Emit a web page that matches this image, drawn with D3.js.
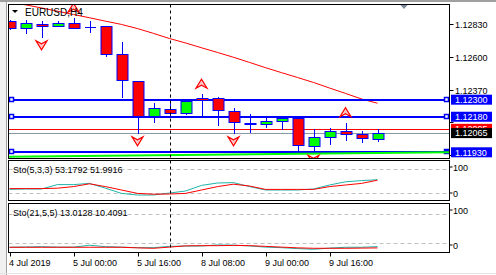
<!DOCTYPE html>
<html><head><meta charset="utf-8">
<script src="https://cdn.jsdelivr.net/npm/d3@7"></script>
<style>html,body{margin:0;padding:0;background:#fff;}svg{display:block;font-family:"Liberation Sans",Arial,sans-serif;}</style>
</head><body>
<svg id="c" width="496" height="275"></svg>
<script>
// ---------- data ----------
const times = ["4 Jul 08:00","4 Jul 12:00","4 Jul 16:00","4 Jul 20:00","5 Jul 00:00","5 Jul 04:00","5 Jul 08:00","5 Jul 12:00","5 Jul 16:00","5 Jul 20:00","8 Jul 00:00","8 Jul 04:00","8 Jul 08:00","8 Jul 12:00","8 Jul 16:00","8 Jul 20:00","9 Jul 00:00","9 Jul 04:00","9 Jul 08:00","9 Jul 12:00","9 Jul 16:00","9 Jul 20:00","10 Jul 00:00","10 Jul 04:00"];
const open  = [1.12856,1.12803,1.12833,1.12819,1.12840,1.12814,1.12819,1.12622,1.12434,1.12185,1.12232,1.12204,1.12310,1.12310,1.12223,1.12138,1.12127,1.12148,1.12169,1.11976,1.12035,1.12080,1.12058,1.12021];
const high  = [1.12862,1.12861,1.12856,1.12856,1.12873,1.12856,1.12819,1.12704,1.12434,1.12275,1.12293,1.12300,1.12338,1.12321,1.12242,1.12199,1.12176,1.12185,1.12171,1.12092,1.12103,1.12138,1.12080,1.12092];
const low   = [1.12795,1.12772,1.12739,1.12815,1.12803,1.12779,1.12610,1.12321,1.12063,1.12145,1.12195,1.12200,1.12185,1.12121,1.12063,1.12075,1.12110,1.12092,1.11946,1.11934,1.11986,1.12016,1.12004,1.12009];
const close = [1.12803,1.12840,1.12817,1.12842,1.12803,1.12814,1.12620,1.12435,1.12185,1.12239,1.12204,1.12293,1.12300,1.12227,1.12141,1.12127,1.12150,1.12173,1.11979,1.12035,1.12080,1.12056,1.12028,1.12065];
const maValues = [1.12990,1.12967,1.12945,1.12922,1.12899,1.12876,1.12852,1.12829,1.12800,1.12766,1.12730,1.12699,1.12665,1.12632,1.12598,1.12562,1.12525,1.12490,1.12456,1.12421,1.12382,1.12344,1.12305,1.12275];
const hLevels = [1.12300, 1.12180, 1.11930];
const trendPrices = [1.11899, 1.11925]; // at first and last candle
const bid = 1.12065, ask = 1.12095;
const priceTicks = [1.12830, 1.12600, 1.12370, 1.12140, 1.11910];
const priceTickShown = [true, true, true, false, false]; // last two are hidden under the line labels
const downArrowIdx = [2, 8, 14, 19];
const upArrowIdx = [4, 12, 21];
const sep = "8 Jul 00:00";
const tickIdx = [0, 4, 8, 12, 16, 20];
const tickLabels = ["4 Jul 2019", "5 Jul 00:00", "5 Jul 16:00", "8 Jul 08:00", "9 Jul 00:00", "9 Jul 16:00"];
const sto1Main = [29,30,30,41,41,44,32,19,15,15,20,25,39,45,46,36,27.5,27.5,27.5,30,40,48,51,53.1792];
const sto1Sig  = [31,31,31,32,36,43,36,27.5,19,17,17.5,19,27.5,36,42,37.5,29,29,29,29,36,40,44,51.9916];
const sto2Main = [11.7,12.3,12.9,12,12,15.8,13,12,10.9,10.9,13.5,14.3,14.3,16.4,16,14.5,12,10.9,9,7.6,10,11.7,11.7,13.0128];
const sto2Sig  = [11.7,11.7,11.7,11.7,11.7,11.7,11.7,11.7,10.5,9.6,12,14.5,15,15,15.5,15,13.5,12,10.5,9.6,9.6,9.6,10,10.4091];
const stoLevels = [20, 80];

// ---------- layout ----------
const svg = d3.select("#c");
const L = 8.5, R = 449.5;
const main = {t: 4.5, b: 158.5}, p1 = {t: 160.5, b: 200.5}, p2 = {t: 203.5, b: 252.5};

const x = d3.scalePoint().domain(times).range([9.5, 377.5]);
const y = d3.scaleLinear().domain([1.11930, 1.12830]).range([152.3, 24.3]);
const y1 = d3.scaleLinear().domain([0, 100]).range([201, 161]);
const y2 = d3.scaleLinear().domain([0, 100]).range([253, 204]);
const fmt = d3.format(".5f");
const rnd = v => Math.round(v) + 0.5;

// chrome
svg.append("rect").attr("x",0).attr("y",0).attr("width",496).attr("height",275).attr("fill","#fff");
svg.append("rect").attr("x",0).attr("y",0).attr("width",6).attr("height",275).attr("fill","#f0f0f0");
svg.append("line").attr("x1",6.5).attr("x2",6.5).attr("y1",0).attr("y2",275).attr("stroke","#a0a0a0");
svg.append("rect").attr("x",0).attr("y",0).attr("width",496).attr("height",2).attr("fill","#a0a0a0");
svg.append("line").attr("x1",0).attr("x2",496).attr("y1",273.5).attr("y2",273.5).attr("stroke","#e4e4e4");

const defs = svg.append("defs");
defs.append("clipPath").attr("id","cm").append("rect").attr("x",L).attr("y",main.t).attr("width",R-L).attr("height",main.b-main.t);
defs.append("clipPath").attr("id","c1").append("rect").attr("x",L).attr("y",p1.t).attr("width",R-L).attr("height",p1.b-p1.t);
defs.append("clipPath").attr("id","c2").append("rect").attr("x",L).attr("y",p2.t).attr("width",R-L).attr("height",p2.b-p2.t);

// ---------- main panel ----------
const gm = svg.append("g").attr("clip-path","url(#cm)");
const idx = d3.range(times.length);

// MA
gm.append("path").datum(idx).attr("fill","none").attr("stroke","#ff0000").attr("stroke-width",1)
  .attr("d", d3.line().x(i => x(times[i])).y(i => y(maValues[i])));

// ask / bid lines
gm.append("line").attr("x1",L).attr("x2",R).attr("y1",rnd(y(ask))).attr("y2",rnd(y(ask))).attr("stroke","#ff0000");
gm.append("line").attr("x1",L).attr("x2",R).attr("y1",rnd(y(bid))).attr("y2",rnd(y(bid))).attr("stroke","#8a99a8");

// horizontal level lines
hLevels.forEach((p, j) => {
  const yy = Math.round(y(p));
  gm.append("line").attr("x1",11).attr("x2",446).attr("y1",yy).attr("y2",yy).attr("stroke","#0000ff").attr("stroke-width",2);
  gm.append("rect").attr("x",9.5).attr("y",yy-2.5).attr("width",4).attr("height",4).attr("fill","#fff").attr("stroke","#0000ff").attr("stroke-width",1.5);
  gm.append("rect").attr("x",444.5).attr("y",yy-2.5).attr("width",4).attr("height",4).attr("fill", j===2 ? "#0000ff" : "#fff").attr("stroke","#0000ff").attr("stroke-width",1.5);
});

// candles
const cg = gm.append("g");
idx.forEach(i => {
  const cx = Math.round(x(times[i])) + 0.5;
  cg.append("line").attr("x1",cx).attr("x2",cx).attr("y1",Math.round(y(high[i]))).attr("y2",Math.round(y(low[i]))+1).attr("stroke","#0000ff");
  const top = Math.round(y(Math.max(open[i], close[i]))) + 0.5;
  const bot = Math.round(y(Math.min(open[i], close[i]))) + 0.5;
  const bull = close[i] > open[i], doji = close[i] === open[i];
  if (doji) {
    cg.append("line").attr("x1",cx-5.5).attr("x2",cx+5.5).attr("y1",top).attr("y2",top).attr("stroke","#0000ff");
  } else {
    cg.append("rect").attr("x",cx-5.5).attr("y",top).attr("width",11).attr("height",Math.max(1,bot-top))
      .attr("fill", bull ? "#00ff00" : "#ff0000").attr("stroke","#0000ff").attr("stroke-width",1);
  }
});

// trend line (green ray)
const tx0 = x(times[0]), tx1 = x(times[times.length-1]);
const slope = (trendPrices[1]-trendPrices[0])/(tx1-tx0);
gm.append("line").attr("x1",L).attr("x2",R)
  .attr("y1", y(trendPrices[0] + slope*(L-tx0))).attr("y2", y(trendPrices[0] + slope*(R-tx0)))
  .attr("stroke","#00ff00").attr("stroke-width",2);

// arrows
const downPath = "M-5.5,0 L0,3 L5.5,0 L0,9 Z";
const upPath = "M-5.5,0 L0,-3 L5.5,0 L0,-9 Z";
downArrowIdx.forEach(i => {
  gm.append("path").attr("d",downPath).attr("transform",`translate(${x(times[i])},${y(low[i])+3.5})`)
    .attr("fill","#ffc8c8").attr("stroke","#ff0000").attr("stroke-width",1.2);
});
upArrowIdx.forEach(i => {
  gm.append("path").attr("d",upPath).attr("transform",`translate(${x(times[i])},${y(high[i])-6})`)
    .attr("fill","#ffc8c8").attr("stroke","#ff0000").attr("stroke-width",1.2);
});

// title
svg.append("path").attr("d","M12,10 L18,10 L15,13 Z").attr("fill","#000");
svg.append("text").attr("x",25).attr("y",16).attr("font-size",10).attr("fill","#000").text("EURUSD,H4");
// shift marker
svg.append("path").attr("d","M400,4.5 L408,4.5 L404,9 Z").attr("fill","#7a8a9a");

// ---------- indicator panels ----------
function stoPanel(clipId, ys, mainV, sigV, label, box) {
  const g = svg.append("g").attr("clip-path",`url(#${clipId})`);
  stoLevels.forEach(l => g.append("line").attr("x1",L).attr("x2",R).attr("y1",Math.round(ys(l))+0.5).attr("y2",Math.round(ys(l))+0.5)
    .attr("stroke","#c0c0c0").attr("stroke-dasharray","4,3"));
  g.append("path").datum(idx).attr("fill","none").attr("stroke","#20b2aa").attr("stroke-width",1)
    .attr("d", d3.line().x(i => x(times[i])).y(i => ys(mainV[i])));
  g.append("path").datum(idx).attr("fill","none").attr("stroke","#ff0000").attr("stroke-width",1)
    .attr("d", d3.line().x(i => x(times[i])).y(i => ys(sigV[i])));
  svg.append("text").attr("x",13).attr("y",box.t + 12.5).attr("font-size",9).attr("fill","#000").text(label);
}
stoPanel("c1", y1, sto1Main, sto1Sig, "Sto(5,3,3) 53.1792 51.9916", p1);
stoPanel("c2", y2, sto2Main, sto2Sig, "Sto(21,5,5) 13.0128 10.4091", p2);

// separator
svg.append("line").attr("x1",Math.round(x(sep))+0.5).attr("x2",Math.round(x(sep))+0.5).attr("y1",main.t).attr("y2",p2.b)
  .attr("stroke","#000").attr("stroke-dasharray","3,3");

// borders
[main, p1, p2].forEach(p => svg.append("rect").attr("x",L).attr("y",p.t).attr("width",R-L).attr("height",p.b-p.t)
  .attr("fill","none").attr("stroke","#000"));

// ---------- price axis ----------
priceTicks.forEach((p, j) => {
  const yy = Math.round(y(p)) + 0.5;
  svg.append("line").attr("x1",R).attr("x2",R+4).attr("y1",yy).attr("y2",yy).attr("stroke","#000");
  if (priceTickShown[j]) svg.append("text").attr("x",455).attr("y",yy+3.2).attr("font-size",9).attr("fill","#000").text(fmt(p));
});
function priceBox(p, bg) {
  const yy = y(p);
  svg.append("rect").attr("x",451).attr("y",yy-5).attr("width",41).attr("height",10).attr("fill",bg);
  svg.append("text").attr("x",455).attr("y",yy+3.3).attr("font-size",9).attr("fill","#fff").text(fmt(p));
}
hLevels.forEach(p => priceBox(p, "#0000ff"));
priceBox(ask, "#ff0000");
priceBox(bid, "#000000");

// indicator axes
[p1, p2].forEach(p => {
  const yTop = p.t + 7, yBot = p.b - 8;
  svg.append("line").attr("x1",R).attr("x2",R+3).attr("y1",yTop-0.5).attr("y2",yTop-0.5).attr("stroke","#000");
  svg.append("line").attr("x1",R).attr("x2",R+3).attr("y1",yBot+0.5).attr("y2",yBot+0.5).attr("stroke","#000");
  svg.append("text").attr("x",453).attr("y",yTop+3).attr("font-size",9).attr("fill","#000").text("100");
  svg.append("text").attr("x",453).attr("y",yBot+4).attr("font-size",9).attr("fill","#000").text("0");
});

// ---------- time axis ----------
tickIdx.forEach((i, j) => {
  const xx = Math.round(x(times[i])) + 0.5;
  svg.append("line").attr("x1",xx).attr("x2",xx).attr("y1",p2.b).attr("y2",p2.b+4).attr("stroke","#000");
  svg.append("text").attr("x",xx-1.5).attr("y",266).attr("font-size",9).attr("fill","#000").text(tickLabels[j]);
});
</script>
</body></html>
